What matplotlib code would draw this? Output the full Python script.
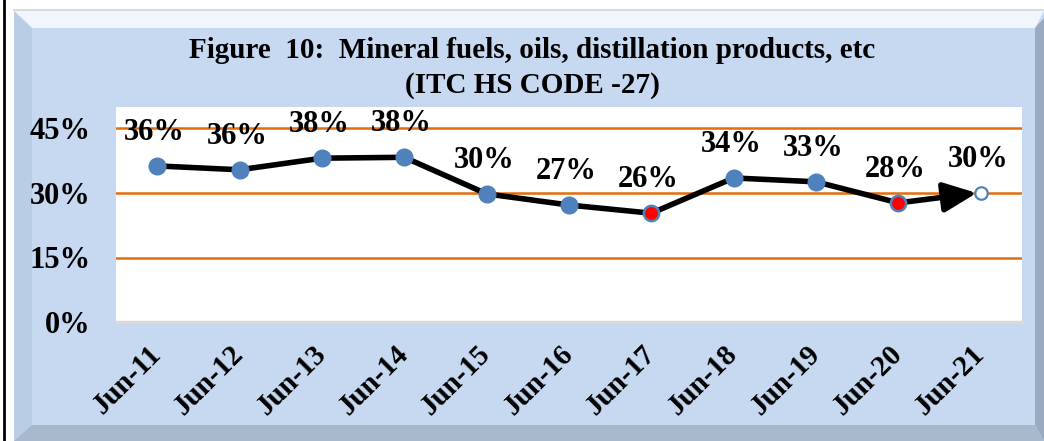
import matplotlib
matplotlib.use('Agg')
import matplotlib.pyplot as plt
from matplotlib.patches import Polygon, Rectangle

# data
months = ['Jun-11', 'Jun-12', 'Jun-13', 'Jun-14', 'Jun-15', 'Jun-16',
          'Jun-17', 'Jun-18', 'Jun-19', 'Jun-20', 'Jun-21']
share = [36.3, 35.4, 38.1, 38.3, 29.8, 27.2, 25.3, 33.5, 32.6, 27.7, 30.0]
labels = ['36%', '36%', '38%', '38%', '30%', '27%', '26%', '34%', '33%', '28%', '30%']
red_idx = [6, 9]
yticks = [0, 15, 30, 45]

W, H = 1044, 441
plt.rcParams['font.family'] = ['Liberation Serif', 'DejaVu Serif']
plt.rcParams['font.weight'] = 'bold'

fig = plt.figure(figsize=(W / 100, H / 100), dpi=100)
fig.patch.set_facecolor('white')

# background panel with bevel, in pixel coords
bg = fig.add_axes([0, 0, 1, 1])
bg.set_xlim(0, W)
bg.set_ylim(H, 0)
bg.axis('off')
face = '#C6D9F1'
bg.add_patch(Rectangle((14, 10), W - 14, H - 10, facecolor=face, edgecolor='none'))
bg.add_patch(Polygon([(14, 11), (W, 11), (1035, 28), (32, 28)], facecolor='#F0F6FC', edgecolor='none'))
bg.add_patch(Polygon([(14, 11), (32, 28), (32, 425), (14, 441)], facecolor='#B9CDE5', edgecolor='none'))
bg.add_patch(Polygon([(W, 18), (1035, 28), (1035, 425), (W, 441)], facecolor='#9AAAC0', edgecolor='none'))
bg.add_patch(Polygon([(14, 441), (32, 425), (1035, 425), (W, 441)], facecolor='#A8B9CE', edgecolor='none'))
bg.plot([14, W], [10, 10], color='#D9D9D9', lw=1.5)
bg.plot([4, 4], [0, H], color='black', lw=2)

fig.text(532 / W, 1 - 68 / H,
         'Figure  10:  Mineral fuels, oils, distillation products, etc\n(ITC HS CODE -27)',
         ha='center', va='center', fontsize=21, fontweight='bold', linespacing=1.38)

# plot area
x0, x1, y0, y1 = 116, 1022, 107, 322
ax = fig.add_axes([x0 / W, 1 - y1 / H, (x1 - x0) / W, (y1 - y0) / H])
ax.set_facecolor('white')
ax.set_xlim(-0.5, len(months) - 0.5)
ax.set_ylim(0, 50)
for s in ['top', 'left', 'right']:
    ax.spines[s].set_visible(False)
ax.spines['bottom'].set_color('#D9D9D9')
ax.spines['bottom'].set_linewidth(2.5)

for t in yticks[1:]:
    ax.axhline(t, color='#E46C0A', lw=1.8, zorder=1)

xs = list(range(len(months)))
ax.plot(xs[:-1], share[:-1], color='black', lw=4, zorder=2, solid_capstyle='round')
ax.annotate('', xy=(xs[-1] - 0.05, share[-1]), xytext=(xs[-2], share[-2]),
            arrowprops=dict(arrowstyle='-|>,head_length=2.0,head_width=0.9',
                            color='black', lw=4, shrinkA=0, shrinkB=0), zorder=3)

for i in xs:
    if i == len(months) - 1:
        ax.plot(i, share[i], 'o', ms=9, mfc='white', mec='#4F81BD', mew=1.6, zorder=4)
    elif i in red_idx:
        ax.plot(i, share[i], 'o', ms=11, mfc='red', mec='#4F81BD', mew=1.8, zorder=4)
    else:
        ax.plot(i, share[i], 'o', ms=12, mfc='#4F81BD', mec='#4F81BD', zorder=4)
    ax.annotate(labels[i], (i, share[i]), xytext=(-2, 24), textcoords='offset points',
                ha='center', va='center', fontsize=22, fontweight='bold', zorder=5)

ax.set_yticks(yticks)
ax.set_yticklabels([f'{t}%' for t in yticks], fontsize=22, fontweight='bold')
ax.set_xticks(xs)
ax.set_xticklabels(months, fontsize=21, fontweight='bold', rotation=45,
                   ha='right', va='center', rotation_mode='anchor')
ax.tick_params(axis='both', length=0)
ax.tick_params(axis='y', pad=18.5)
ax.tick_params(axis='x', pad=20)

fig.savefig('out.png', dpi=100, facecolor=fig.get_facecolor())
